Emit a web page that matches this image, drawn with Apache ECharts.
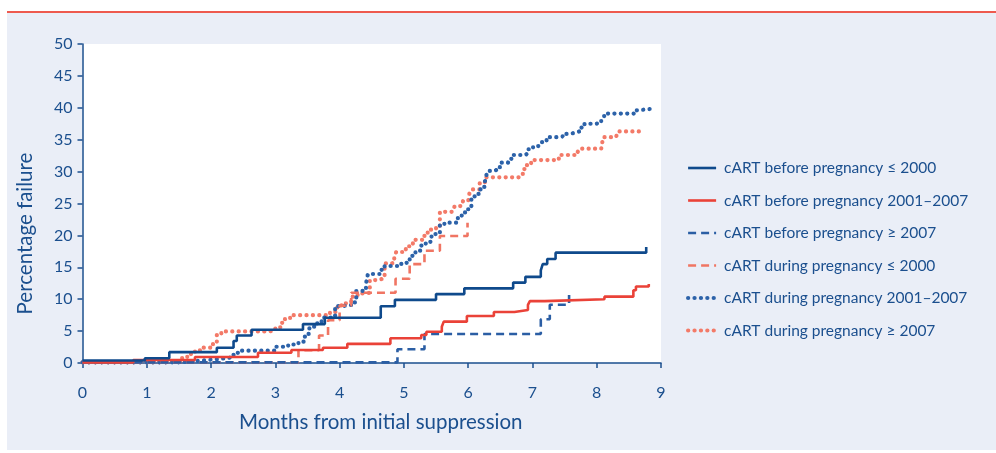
<!DOCTYPE html>
<html>
<head>
<meta charset="utf-8">
<script src="https://cdn.jsdelivr.net/npm/echarts@6/dist/echarts.min.js"></script>
<style>
html,body{margin:0;padding:0;background:#fff;}
#panel{position:absolute;left:7px;top:13px;width:989px;height:437px;background:#eaeef7;}
#rule{position:absolute;left:7px;top:11px;width:989px;height:2px;background:#ee5a4f;}
#chart{position:absolute;left:0;top:0;width:996px;height:453px;}
</style>
</head>
<body>
<div id="panel"></div>
<div id="rule"></div>
<div id="chart"></div>
<script>
// Tick labels
const xTicks = [0,1,2,3,4,5,6,7,8,9];
const yTicks = [0,5,10,15,20,25,30,35,40,45,50];

const seriesNames = [
  'cART before pregnancy \u2264 2000',
  'cART before pregnancy 2001\u20132007',
  'cART before pregnancy \u2265 2007',
  'cART during pregnancy \u2264 2000',
  'cART during pregnancy 2001\u20132007',
  'cART during pregnancy \u2265 2007'
];

// [month, percentage failure] — value jumps at each month
const beforeLe2000 = [[0,0.4],[0.97,0.75],[1.35,1.7],[2.09,2.4],[2.35,3.45],[2.40,4.3],[2.63,5.2],[3.43,6.1],[3.77,7.1],[4.64,8.9],[4.86,9.9],[5.5,10.8],[5.94,11.7],[6.70,12.6],[6.89,13.5],[7.13,14.5],[7.16,15.5],[7.23,16.3],[7.36,17.3],[8.77,18.2]];
const before2001_2007 = [[0,0.1],[0.79,0.47],[1.75,0.95],[2.73,1.6],[3.25,2.04],[3.74,2.4],[4.12,3.0],[4.79,3.87],[5.27,4.39],[5.35,4.9],[5.59,5.69],[5.62,6.48],[5.98,7.37],[6.40,8.0],[6.72,8.3],[6.93,9.1],[6.96,9.7],[7.19,10.0],[8.12,10.4],[8.57,11.4],[8.61,12.0],[8.81,12.4]];
const beforeGe2007 = [[0,0.1],[4.9,2.15],[5.32,4.55],[7.13,6.85],[7.27,9.14],[7.57,11.4]];
const duringLe2000 = [[0,0.1],[3.36,2.0],[3.68,4.3],[3.82,6.7],[4.0,9.0],[4.18,11.0],[4.87,13.2],[5.09,15.5],[5.32,17.6],[5.56,19.9],[5.99,22.0]];
const during2001_2007 = [[0,0.1],[1.52,0.3],[1.75,0.6],[2.09,0.9],[2.35,1.6],[2.42,1.93],[2.99,2.55],[3.2,2.9],[3.36,3.34],[3.46,4.55],[3.53,5.69],[3.62,6.2],[3.72,7.1],[3.93,8.93],[4.05,9.1],[4.18,9.5],[4.26,11.3],[4.41,12.4],[4.44,13.95],[4.62,14.6],[4.70,15.2],[4.96,15.7],[5.09,16.8],[5.18,17.6],[5.26,18.4],[5.34,19.0],[5.43,20.2],[5.56,21.6],[5.63,22.0],[5.84,23.0],[5.90,23.6],[6.0,24.1],[6.05,25.8],[6.1,26.5],[6.18,27.2],[6.22,27.6],[6.26,28.4],[6.28,29.3],[6.30,30.1],[6.40,30.3],[6.45,30.7],[6.52,31.4],[6.62,31.5],[6.63,32.0],[6.71,32.6],[6.89,32.9],[6.93,33.5],[7.01,34.0],[7.10,34.3],[7.15,34.8],[7.22,35.4],[7.41,35.5],[7.47,35.9],[7.58,36.1],[7.66,36.3],[7.73,36.9],[7.81,37.5],[7.97,37.6],[8.07,38.0],[8.10,38.7],[8.16,39.1],[8.59,39.6],[8.64,39.9],[8.90,39.9]];
const duringGe2007 = [[0,0.1],[1.3,0.2],[1.46,0.35],[1.55,0.9],[1.63,1.4],[1.75,2.0],[1.85,2.4],[2.03,3.3],[2.09,4.4],[2.16,4.95],[2.9,5.1],[3.0,5.6],[3.08,6.3],[3.15,7.0],[3.23,7.5],[3.75,7.5],[3.85,8.0],[3.95,8.7],[4.03,9.36],[4.12,9.5],[4.18,10.4],[4.28,10.9],[4.4,11.0],[4.47,13.0],[4.60,13.3],[4.70,15.6],[4.80,15.7],[4.85,16.5],[4.88,17.4],[4.97,17.4],[5.03,18.3],[5.14,19.3],[5.25,19.3],[5.32,20.4],[5.37,20.9],[5.50,21.5],[5.56,23.7],[5.76,23.7],[5.79,24.6],[5.90,24.7],[5.92,25.4],[6.0,25.5],[6.02,26.6],[6.05,27.2],[6.18,28.3],[6.26,29.1],[6.7,29.1],[6.8,29.4],[6.85,30.4],[6.91,31.0],[6.98,31.8],[7.37,31.8],[7.41,32.6],[7.65,32.6],[7.70,33.0],[7.73,33.6],[8.07,33.6],[8.10,35.4],[8.3,35.5],[8.33,36.3],[8.66,36.3]];

const seriesData = [beforeLe2000, before2001_2007, beforeGe2007, duringLe2000, during2001_2007, duringGe2007];

const textColor = '#1b4f8e';
const styles = [
  {color:'#0f4a8c', width:2.6, type:'solid', cap:'butt'},
  {color:'#ea4238', width:2.6, type:'solid', cap:'butt'},
  {color:'#2b5ea4', width:2.6, type:[8,5], cap:'butt'},
  {color:'#f07563', width:2.6, type:[8,5], cap:'butt'},
  {color:'#2c62a9', width:4.2, type:[0.1,6.3], cap:'round'},
  {color:'#f37a68', width:4.2, type:[0.1,6.3], cap:'round'}
];

const chart = echarts.init(document.getElementById('chart'), null, {renderer:'canvas'});
chart.setOption({
  animation: false,
  backgroundColor: 'transparent',
  textStyle: {fontFamily: 'Lato'},
  grid: {left: 82.5, right: 335, top: 44, bottom: 90, show: true, backgroundColor: '#ffffff', borderWidth: 0},
  legend: {
    orient: 'vertical', left: 681, top: 155, itemWidth: 28, itemHeight: 14, itemGap: 16.5,
    data: seriesNames.map((n, i) => ({
      name: n,
      lineStyle: {color: styles[i].color, width: styles[i].width, type: styles[i].type, cap: styles[i].cap}
    })),
    itemStyle: {opacity: 0, borderWidth: 0},
    textStyle: {color: textColor, fontSize: 15.5, fontFamily: 'Lato', padding: [0,0,0,3]}
  },
  xAxis: {
    type: 'value', min: 0, max: 9, interval: 1,
    name: 'Months from initial suppression', nameLocation: 'middle', nameGap: 49,
    nameTextStyle: {color: textColor, fontSize: 20.5, fontFamily: 'Lato', padding: [0,0,0,18]},
    axisLine: {show: true, lineStyle: {color: textColor, width: 1.5}},
    axisTick: {show: true, length: 5, lineStyle: {color: textColor, width: 1.5}},
    axisLabel: {color: textColor, fontSize: 16, margin: 22, formatter: v => xTicks.includes(v) ? String(v) : ''},
    splitLine: {show: false}
  },
  yAxis: {
    type: 'value', min: 0, max: 50, interval: 5,
    name: 'Percentage failure', nameLocation: 'middle', nameGap: 47, nameRotate: 90,
    nameTextStyle: {color: textColor, fontSize: 20.5, fontFamily: 'Lato', padding: [0,60,0,0]},
    axisLine: {show: true, lineStyle: {color: textColor, width: 1.5}},
    axisTick: {show: true, length: 5, lineStyle: {color: textColor, width: 1.5}},
    axisLabel: {color: textColor, fontSize: 16, margin: 10, formatter: v => yTicks.includes(v) ? String(v) : ''},
    splitLine: {show: false}
  },
  series: seriesData.map((d, i) => ({
    name: seriesNames[i],
    type: 'line',
    step: 'end',
    data: d,
    symbol: 'none',
    showSymbol: false,
    z: 10 - i,
    color: styles[i].color,
    lineStyle: {color: styles[i].color, width: styles[i].width, type: styles[i].type, cap: styles[i].cap}
  }))
});
</script>
</body>
</html>
